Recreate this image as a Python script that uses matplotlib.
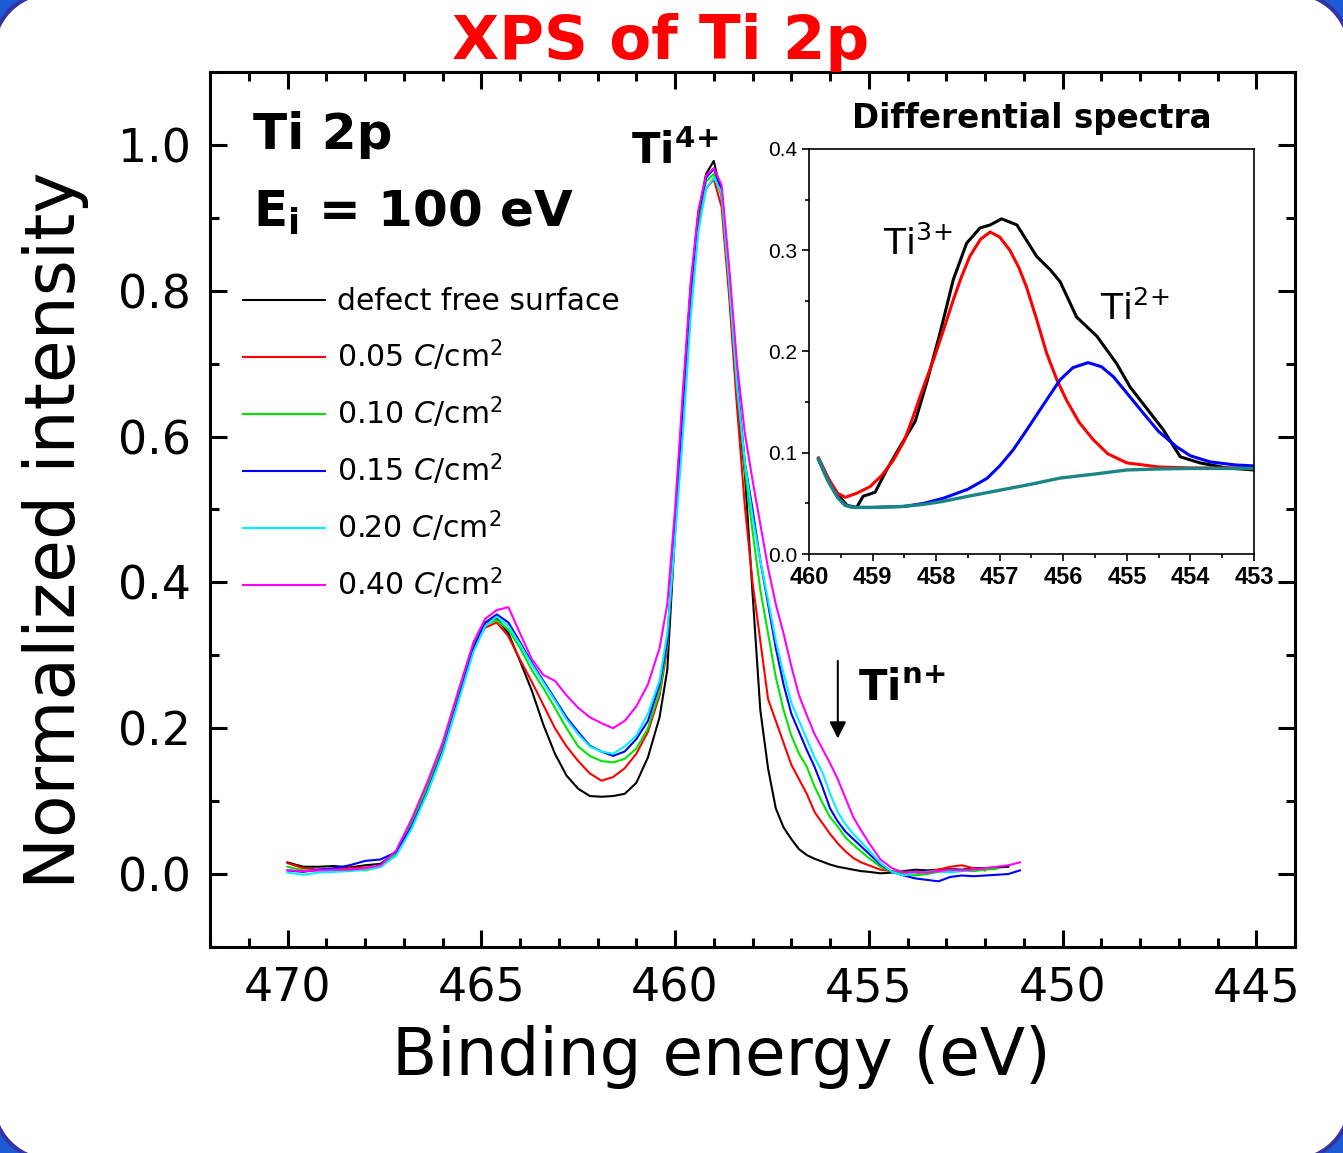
import numpy as np
import matplotlib
matplotlib.use("Agg")
import matplotlib.pyplot as plt
from matplotlib.patches import FancyBboxPatch
from matplotlib.ticker import MultipleLocator, FormatStrFormatter

nan = np.nan

# ---- main spectra (binding energy grid, eV) ----
energy = [470.0, 469.6, 469.2, 468.8, 468.4, 468.0, 467.6, 467.2, 466.8, 466.4,
          466.0, 465.6, 465.2, 464.9, 464.6, 464.3, 464.0, 463.7, 463.4, 463.1,
          462.8, 462.5, 462.2, 461.9, 461.6, 461.3, 461.0, 460.7, 460.4, 460.2,
          460.0, 459.8, 459.6, 459.4, 459.2, 459.0, 458.8, 458.6, 458.4, 458.2,
          458.0, 457.8, 457.6, 457.4, 457.2, 457.0, 456.8, 456.6, 456.4, 456.2,
          456.0, 455.8, 455.6, 455.4, 455.2, 455.0, 454.7, 454.4, 454.1, 453.8,
          453.5, 453.2, 452.9, 452.6, 452.3, 452.0, 451.7, 451.4, 451.1]

defect_free = [0.016, 0.010, 0.010, 0.011, 0.009, 0.012, 0.014, 0.030, 0.070, 0.118,
               0.172, 0.240, 0.312, 0.344, 0.351, 0.330, 0.292, 0.252, 0.205, 0.165,
               0.135, 0.117, 0.107, 0.106, 0.107, 0.110, 0.125, 0.160, 0.215, 0.280,
               0.470, 0.650, 0.800, 0.905, 0.960, 0.978, 0.930, 0.800, 0.650, 0.550,
               0.385, 0.225, 0.145, 0.090, 0.064, 0.048, 0.034, 0.026, 0.021, 0.017,
               0.013, 0.010, 0.008, 0.006, 0.004, 0.003, 0.001, 0.002, 0.004, 0.006,
               0.005, 0.006, 0.007, 0.006, 0.008, 0.008, 0.009, 0.010, nan]

dose_005 = [0.015, 0.008, 0.006, 0.007, 0.008, 0.009, 0.010, 0.030, 0.072, 0.120,
            0.175, 0.245, 0.312, 0.338, 0.345, 0.326, 0.294, 0.264, 0.232, 0.200,
            0.175, 0.155, 0.138, 0.128, 0.133, 0.145, 0.165, 0.195, 0.245, 0.310,
            0.470, 0.640, 0.790, 0.890, 0.940, 0.953, 0.915, 0.790, 0.640, 0.505,
            0.400, 0.320, 0.240, 0.210, 0.180, 0.150, 0.130, 0.110, 0.085, 0.070,
            0.055, 0.042, 0.031, 0.022, 0.016, 0.012, 0.006, 0.004, 0.002, 0.001,
            0.003, 0.006, 0.010, 0.012, 0.008, 0.005, nan, nan, nan]

dose_010 = [0.010, 0.005, 0.005, 0.004, 0.006, 0.005, 0.010, 0.028, 0.070, 0.118,
            0.172, 0.242, 0.312, 0.342, 0.348, 0.335, 0.310, 0.280, 0.255, 0.228,
            0.200, 0.175, 0.162, 0.155, 0.153, 0.158, 0.172, 0.200, 0.250, 0.315,
            0.475, 0.645, 0.795, 0.900, 0.950, 0.960, 0.930, 0.810, 0.670, 0.555,
            0.470, 0.390, 0.330, 0.270, 0.225, 0.190, 0.165, 0.147, 0.120, 0.098,
            0.078, 0.065, 0.050, 0.040, 0.031, 0.022, 0.010, 0.003, 0.000, -0.002,
            0.000, 0.003, 0.004, 0.005, 0.004, 0.006, 0.007, nan, nan]

dose_015 = [0.005, 0.003, 0.006, 0.008, 0.012, 0.018, 0.020, 0.030, 0.065, 0.112,
            0.168, 0.238, 0.310, 0.345, 0.356, 0.345, 0.318, 0.290, 0.265, 0.240,
            0.215, 0.195, 0.176, 0.168, 0.162, 0.168, 0.185, 0.210, 0.260, 0.320,
            0.475, 0.645, 0.800, 0.905, 0.955, 0.967, 0.940, 0.820, 0.680, 0.565,
            0.500, 0.430, 0.370, 0.310, 0.260, 0.220, 0.195, 0.170, 0.147, 0.120,
            0.090, 0.072, 0.058, 0.048, 0.038, 0.028, 0.013, 0.003, -0.002, -0.006,
            -0.008, -0.010, -0.004, -0.002, -0.003, -0.002, -0.001, 0.000, 0.005]

dose_020 = [0.002, -0.001, 0.002, 0.003, 0.004, 0.006, 0.010, 0.025, 0.062, 0.110,
            0.165, 0.235, 0.305, 0.340, 0.353, 0.340, 0.315, 0.288, 0.263, 0.238,
            0.212, 0.192, 0.175, 0.168, 0.165, 0.175, 0.190, 0.220, 0.265, 0.330,
            0.460, 0.600, 0.760, 0.880, 0.940, 0.955, 0.935, 0.810, 0.670, 0.565,
            0.490, 0.430, 0.376, 0.320, 0.275, 0.235, 0.210, 0.185, 0.160, 0.140,
            0.110, 0.085, 0.068, 0.055, 0.044, 0.033, 0.015, 0.003, -0.002, 0.002,
            0.003, 0.004, 0.002, 0.004, 0.006, nan, nan, nan, nan]

dose_040 = [0.005, 0.004, 0.005, 0.006, 0.006, 0.008, 0.012, 0.032, 0.075, 0.125,
            0.180, 0.250, 0.318, 0.350, 0.362, 0.366, 0.330, 0.295, 0.273, 0.265,
            0.245, 0.228, 0.215, 0.207, 0.200, 0.210, 0.230, 0.260, 0.310, 0.370,
            0.500, 0.660, 0.810, 0.910, 0.958, 0.968, 0.945, 0.830, 0.700, 0.605,
            0.540, 0.480, 0.420, 0.370, 0.330, 0.285, 0.245, 0.218, 0.192, 0.172,
            0.152, 0.130, 0.104, 0.078, 0.060, 0.043, 0.020, 0.008, 0.002, 0.003,
            0.002, 0.004, 0.006, 0.005, 0.006, 0.008, 0.010, 0.012, 0.016]

series = [defect_free, dose_005, dose_010, dose_015, dose_020, dose_040]
labels = ["defect free surface",
          r"0.05 $C$/cm$^2$", r"0.10 $C$/cm$^2$", r"0.15 $C$/cm$^2$",
          r"0.20 $C$/cm$^2$", r"0.40 $C$/cm$^2$"]
colors = ["black", "#ff0000", "#00e600", "#0000ff", "#00f0ff", "#ff00ff"]

# ---- inset: differential spectrum and fit ----
diff_e = [459.85, 459.6, 459.4, 459.25, 459.15, 458.96, 458.78, 458.54, 458.33, 458.15,
          457.94, 457.73, 457.52, 457.31, 457.15, 456.97, 456.73, 456.58, 456.42, 456.21,
          456.05, 455.79, 455.47, 455.16, 454.95, 454.69, 454.43, 454.16, 453.85, 453.43,
          453.0]
diff_i = [0.094, 0.062, 0.048, 0.046, 0.057, 0.061, 0.083, 0.109, 0.131, 0.169,
          0.218, 0.271, 0.307, 0.322, 0.325, 0.331, 0.325, 0.310, 0.294, 0.281,
          0.269, 0.234, 0.215, 0.188, 0.165, 0.144, 0.123, 0.096, 0.090, 0.085,
          0.083]

ti3_e = [459.85, 459.7, 459.55, 459.43, 459.25, 459.04, 458.85, 458.67, 458.5, 458.36,
         458.2, 458.04, 457.88, 457.73, 457.6, 457.47, 457.3, 457.15, 457.0, 456.84,
         456.7, 456.58, 456.42, 456.26, 456.1, 455.95, 455.75, 455.53, 455.3, 455.0,
         454.5, 454.0, 453.0]
ti3_i = [0.095, 0.075, 0.060, 0.056, 0.060, 0.0665, 0.078, 0.093, 0.112, 0.136,
         0.165, 0.192, 0.222, 0.251, 0.274, 0.294, 0.311, 0.318, 0.313, 0.300,
         0.283, 0.264, 0.232, 0.198, 0.172, 0.152, 0.130, 0.113, 0.099, 0.090,
         0.086, 0.085, 0.085]

ti2_e = [459.85, 459.7, 459.55, 459.43, 459.3, 459.0, 458.5, 458.2, 457.89, 457.5,
         457.2, 457.0, 456.79, 456.58, 456.37, 456.2, 456.05, 455.85, 455.61, 455.4,
         455.21, 455.0, 454.74, 454.5, 454.22, 454.0, 453.69, 453.3, 453.0]
ti2_i = [0.093, 0.072, 0.056, 0.048, 0.046, 0.046, 0.047, 0.050, 0.055, 0.064,
         0.0747, 0.087, 0.1027, 0.122, 0.142, 0.158, 0.172, 0.184, 0.189, 0.185,
         0.175, 0.159, 0.139, 0.121, 0.106, 0.097, 0.091, 0.088, 0.087]

bg_e = [459.85, 459.7, 459.55, 459.43, 459.3, 459.0, 458.52, 458.2, 457.89, 457.5,
        457.0, 456.5, 456.05, 455.5, 455.0, 454.5, 454.0, 453.0]
bg_i = [0.094, 0.072, 0.056, 0.048, 0.046, 0.046, 0.047, 0.049, 0.052, 0.057,
        0.063, 0.069, 0.075, 0.079, 0.083, 0.084, 0.0845, 0.0845]

W, H = 1343, 1153
plt.rcParams["font.family"] = ["DejaVu Sans"]
plt.rcParams["mathtext.fontset"] = "dejavusans"

fig = plt.figure(figsize=(W / 100, H / 100), dpi=100, facecolor="#1d5ad6")

# rounded white slide panel
bg = fig.add_axes([0, 0, 1, 1])
bg.set_xlim(0, W)
bg.set_ylim(H, 0)
bg.axis("off")
bg.set_zorder(-10)
bg.add_patch(FancyBboxPatch((-10, -10), W + 20, H + 20,
                            boxstyle="round,pad=0,rounding_size=80",
                            fc="white", ec="#3434a4", lw=3))

fig.text(0.4916, 0.963, "XPS of Ti 2p", color="#ff0000", fontsize=44,
         fontweight="bold", ha="center", va="center")

ax = fig.add_axes([0.1564, 0.1787, 0.8079, 0.7589])
for y, lab, c in zip(series, labels, colors):
    ax.plot(energy, y, color=c, lw=1.5, label=lab)

ax.set_xlim(472, 444)
ax.set_ylim(-0.1, 1.1)
ax.xaxis.set_major_locator(MultipleLocator(5))
ax.xaxis.set_minor_locator(MultipleLocator(1))
ax.yaxis.set_major_locator(MultipleLocator(0.2))
ax.yaxis.set_minor_locator(MultipleLocator(0.1))
ax.yaxis.set_major_formatter(FormatStrFormatter("%.1f"))
ax.tick_params(which="both", direction="in", top=True, right=True,
               width=2.2, labelsize=33, pad=14)
ax.tick_params(which="major", length=12)
ax.tick_params(which="minor", length=6.5)
for sp in ax.spines.values():
    sp.set_linewidth(2.2)

fig.text(0.041, 0.54, "Normalized intensity", rotation=90, fontsize=50,
         ha="center", va="center")
fig.text(0.537, 0.083, "Binding energy (eV)", fontsize=47.5,
         ha="center", va="center")

ax.legend(loc="upper left", bbox_to_anchor=(0.03, 0.754), frameon=False,
          fontsize=21.5, handlelength=2.75, handletextpad=0.42,
          labelspacing=0.72, borderaxespad=0, borderpad=0)

ax.text(470.88, 0.994, "Ti 2p", fontsize=36, fontweight="bold", va="baseline")
ax.text(470.88, 0.887, r"E$_\mathbf{i}$ = 100 eV", fontsize=36,
        fontweight="bold", va="baseline")
ax.text(460.0, 0.974, r"Ti$^\mathbf{4\!+}$", fontsize=30, fontweight="bold",
        ha="center", va="baseline")
ax.text(455.28, 0.239, r"Ti$^\mathbf{n\!+}$", fontsize=30, fontweight="bold",
        va="baseline")
ax.annotate("", xy=(455.8, 0.182), xytext=(455.8, 0.296),
            arrowprops=dict(arrowstyle="-|>", color="black", lw=1.5,
                            mutation_scale=25))

# inset
ins = fig.add_axes([0.6024, 0.5195, 0.3313, 0.3513])
ins.plot(diff_e, diff_i, color="black", lw=2.2)
ins.plot(ti3_e, ti3_i, color="#ff0000", lw=2.2)
ins.plot(ti2_e, ti2_i, color="#0000ff", lw=2.2)
ins.plot(bg_e, bg_i, color="#1a8585", lw=2.4)
ins.set_xlim(460, 453)
ins.set_ylim(0, 0.4)
ins.xaxis.set_major_locator(MultipleLocator(1))
ins.xaxis.set_minor_locator(MultipleLocator(0.5))
ins.yaxis.set_major_locator(MultipleLocator(0.1))
ins.yaxis.set_minor_locator(MultipleLocator(0.05))
ins.yaxis.set_major_formatter(FormatStrFormatter("%.1f"))
ins.tick_params(which="both", direction="out", top=False, right=False, width=1.2)
ins.tick_params(which="major", length=5)
ins.tick_params(which="minor", length=3)
for t in ins.get_yticklabels():
    t.set_fontfamily("Liberation Sans")
    t.set_fontsize(15)
for t in ins.get_xticklabels():
    t.set_fontfamily("Liberation Sans")
    t.set_fontsize(17)
    t.set_fontweight("bold")
for sp in ins.spines.values():
    sp.set_linewidth(1.2)
ins.text(456.5, 0.43, "Differential spectra", fontsize=23.5, fontweight="bold",
         ha="center", va="center")
ins.text(458.84, 0.295, r"Ti$^{3\!+}$", fontsize=26, va="baseline")
ins.text(455.42, 0.231, r"Ti$^{2\!+}$", fontsize=26, va="baseline")

fig.savefig("out.png", dpi=100, facecolor=fig.get_facecolor())
